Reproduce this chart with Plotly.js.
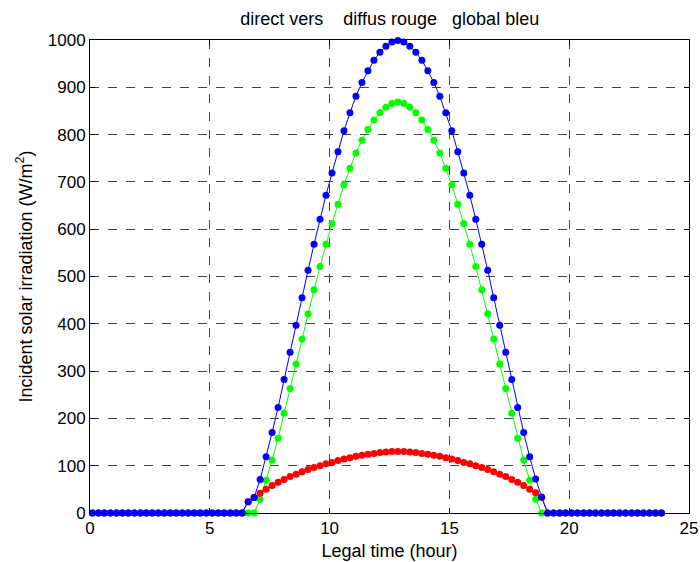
<!DOCTYPE html>
<html>
<head>
<meta charset="utf-8">
<script src="https://cdn.plot.ly/plotly-3.0.1.min.js"></script>
<style>
  html, body { margin: 0; padding: 0; background: #ffffff; }
  #chart { width: 700px; height: 562px; }
</style>
</head>
<body>
<div id="chart"></div>
<script>
// Legal time (hour), one point every quarter hour
const hours = [
  0.1, 0.35, 0.6, 0.85, 1.1, 1.35, 1.6, 1.85, 2.1, 2.35, 2.6, 2.85,
  3.1, 3.35, 3.6, 3.85, 4.1, 4.35, 4.6, 4.85, 5.1, 5.35, 5.6, 5.85,
  6.1, 6.35, 6.6, 6.85, 7.1, 7.35, 7.6, 7.85, 8.1, 8.35, 8.6, 8.85,
  9.1, 9.35, 9.6, 9.85, 10.1, 10.35, 10.6, 10.85, 11.1, 11.35, 11.6, 11.85,
  12.1, 12.35, 12.6, 12.85, 13.1, 13.35, 13.6, 13.85, 14.1, 14.35, 14.6, 14.85,
  15.1, 15.35, 15.6, 15.85, 16.1, 16.35, 16.6, 16.85, 17.1, 17.35, 17.6, 17.85,
  18.1, 18.35, 18.6, 18.85, 19.1, 19.35, 19.6, 19.85, 20.1, 20.35, 20.6, 20.85,
  21.1, 21.35, 21.6, 21.85, 22.1, 22.35, 22.6, 22.85, 23.1, 23.35, 23.6, 23.85
];

// direct (vert)
const direct = [
  0, 0, 0, 0, 0, 0, 0, 0, 0, 0, 0, 0,
  0, 0, 0, 0, 0, 0, 0, 0, 0, 0, 0, 0,
  0, 0, 0, 0, 29, 69, 112, 158, 211, 263, 315, 368,
  421, 472, 521, 568, 612, 653, 694, 729, 761, 788, 811, 831,
  846, 858, 866, 869, 866, 858, 846, 831, 811, 788, 761, 729,
  694, 653, 612, 568, 521, 472, 421, 368, 315, 263, 211, 158,
  112, 69, 29, 0, 0, 0, 0, 0, 0, 0, 0, 0,
  0, 0, 0, 0, 0, 0, 0, 0, 0, 0, 0, 0
];

// diffus (rouge)
const diffus = [
  0, 0, 0, 0, 0, 0, 0, 0, 0, 0, 0, 0,
  0, 0, 0, 0, 0, 0, 0, 0, 0, 0, 0, 0,
  0, 0, 24, 33, 42, 50, 58, 65, 71, 77, 82, 87,
  92, 96, 100, 104, 107, 111, 114, 117, 120, 122, 124, 126,
  128, 129, 130, 130, 130, 129, 128, 126, 124, 122, 120, 117,
  114, 111, 107, 104, 100, 96, 92, 87, 82, 77, 71, 65,
  58, 50, 43, 33, 0, 0, 0, 0, 0, 0, 0, 0,
  0, 0, 0, 0, 0, 0, 0, 0, 0, 0, 0, 0
];

// global (bleu)
const globalIrr = [
  0, 0, 0, 0, 0, 0, 0, 0, 0, 0, 0, 0,
  0, 0, 0, 0, 0, 0, 0, 0, 0, 0, 0, 0,
  0, 0, 24, 33, 71, 119, 170, 223, 282, 340, 397, 455,
  513, 568, 621, 672, 719, 764, 808, 846, 881, 910, 935, 957,
  974, 987, 996, 999, 996, 987, 974, 957, 935, 910, 881, 846,
  808, 764, 719, 672, 621, 568, 513, 455, 397, 340, 282, 223,
  170, 119, 72, 34, 0, 0, 0, 0, 0, 0, 0, 0,
  0, 0, 0, 0, 0, 0, 0, 0, 0, 0, 0, 0
];

const xTicks = [0, 5, 10, 15, 20, 25];
const yTicks = [0, 100, 200, 300, 400, 500, 600, 700, 800, 900, 1000];

const FONT = 'Liberation Sans, Arial, Helvetica, sans-serif';
const NB = '\u00a0';

function series(y, color) {
  return {
    x: hours, y: y, type: 'scatter', mode: 'lines+markers',
    line: { color: color, width: 1 },
    marker: { color: color, size: 7 },
    cliponaxis: false, showlegend: false, hoverinfo: 'x+y'
  };
}

const data = [
  series(direct, '#00ff00'),
  series(diffus, '#ff0000'),
  series(globalIrr, '#0000ff')
];

const axisCommon = {
  showline: true, linecolor: '#000000', linewidth: 1, mirror: 'ticks',
  ticks: 'inside', ticklen: 5, tickcolor: '#000000', tickwidth: 1,
  showgrid: true, gridcolor: '#444444', gridwidth: 1, griddash: 'dash',
  zeroline: false,
  tickfont: { family: FONT, size: 17, color: '#000000' }
};

const layout = {
  width: 700, height: 562,
  paper_bgcolor: '#ffffff', plot_bgcolor: '#ffffff',
  margin: { l: 90, r: 11, t: 40, b: 49 },
  title: {
    text: 'direct vers' + NB.repeat(4) + 'diffus rouge' + NB.repeat(3) + 'global bleu',
    font: { family: FONT, size: 18, color: '#000000' },
    x: 0.5568, xanchor: 'center', y: 0.967, yanchor: 'middle'
  },
  xaxis: Object.assign({}, axisCommon, {
    range: [0, 25], tickmode: 'array', tickvals: xTicks, ticktext: xTicks.map(String),
    title: { text: 'Legal time (hour)', font: { family: FONT, size: 18, color: '#000000' }, standoff: 6 }
  }),
  yaxis: Object.assign({}, axisCommon, {
    range: [0, 1000], tickmode: 'array', tickvals: yTicks, ticktext: yTicks.map(String),
    title: { text: 'Incident solar irradiation (W/m<sup>2</sup>)', font: { family: FONT, size: 18, color: '#000000' }, standoff: 10 }
  })
};

Plotly.newPlot('chart', data, layout, { displayModeBar: false, staticPlot: true });
</script>
</body>
</html>
